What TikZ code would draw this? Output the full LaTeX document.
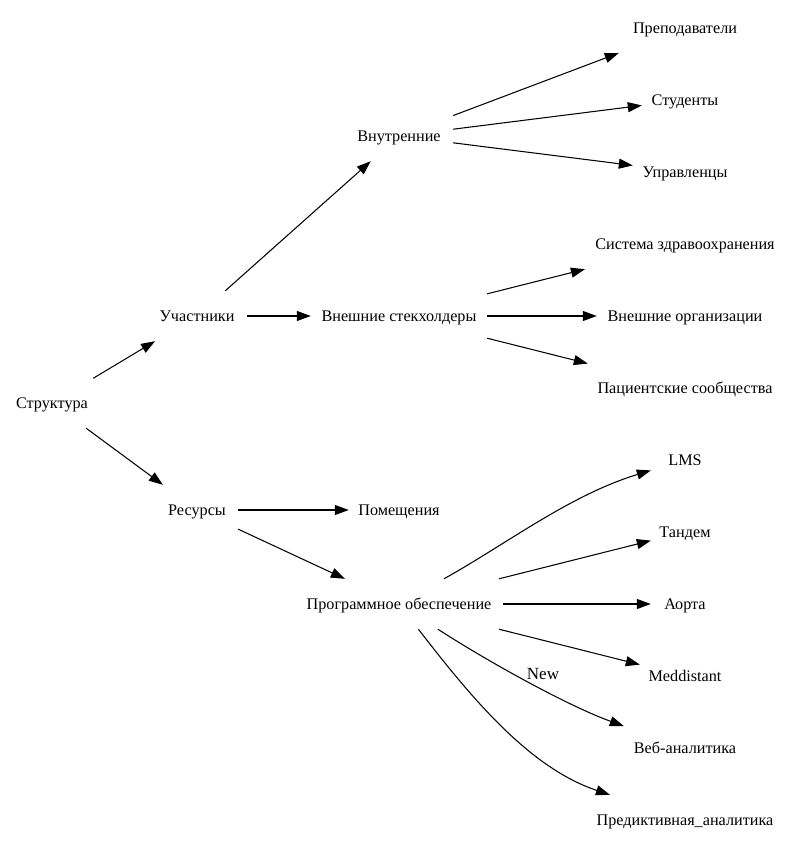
\documentclass[tikz,border=0pt]{standalone}
\usepackage{fontspec}
\setmainfont{Liberation Serif}
\usetikzlibrary{arrows.meta}
\begin{document}
\begin{tikzpicture}[x=1pt,y=-1pt,
  nd/.style={rectangle,inner sep=0pt,minimum height=50pt,text height=14.5pt,text depth=3pt,font=\fontsize{16.2}{19}\selectfont},
  arr/.style={-{Triangle[length=14pt,width=10pt]},line width=1.05pt,black},
  lbl/.style={inner sep=0pt,font=\fontsize{17}{20}\selectfont}]
\useasboundingbox (0,0) rectangle (792,851);
% level 0-2
\node[nd,minimum width=82pt]  (str) at (52,403) {Структура};
\node[nd,minimum width=100pt] (uch) at (197,316) {Участники};
\node[nd,minimum width=82pt]  (res) at (197,510) {Ресурсы};
\node[nd,minimum width=108pt] (vnu) at (399,136) {Внутренние};
\node[nd,minimum width=176pt] (vne) at (399,316) {Внешние стекхолдеры};
\node[nd,minimum width=100pt] (pom) at (399,510) {Помещения};
\node[nd,minimum width=208pt] (po)  at (399,604) {Программное обеспечение};
% leaves
\node[nd,minimum width=132pt] (pre) at (685,28)  {Преподаватели};
\node[nd,minimum width=86pt]  (stu) at (685,100) {Студенты};
\node[nd,minimum width=104pt] (upr) at (685,172) {Управленцы};
\node[nd,minimum width=200pt] (sis) at (685,244) {Система здравоохранения};
\node[nd,minimum width=176pt] (org) at (685,316) {Внешние организации};
\node[nd,minimum width=194pt] (pac) at (685,388) {Пациентские сообщества};
\node[nd,minimum width=68pt]  (lms) at (685,460) {LMS};
\node[nd,minimum width=68pt]  (tan) at (685,532) {Тандем};
\node[nd,minimum width=68pt]  (aor) at (685,604) {Аорта};
\node[nd,minimum width=90pt]  (med) at (685,676) {Meddistant};
\node[nd,minimum width=122pt] (veb) at (685,748) {Веб-аналитика};
\node[nd,minimum width=198pt] (prd) at (685,820) {Предиктивная\_аналитика};
\node[lbl] (new) at (543,674) {New};
% edges
\draw[arr] (str) -- (uch);
\draw[arr] (str) -- (res);
\draw[arr] (uch) -- (vnu);
\draw[arr] (uch) -- (vne);
\draw[arr] (res) -- (pom);
\draw[arr] (res) -- (po);
\draw[arr] (vnu) -- (pre);
\draw[arr] (vnu) -- (stu);
\draw[arr] (vnu) -- (upr);
\draw[arr] (vne) -- (sis);
\draw[arr] (vne) -- (org);
\draw[arr] (vne) -- (pac);
\draw[arr] (po) .. controls (508,543) and (570,495) .. (lms);
\draw[arr] (po) -- (tan);
\draw[arr] (po) -- (aor);
\draw[arr] (po) -- (med);
\draw[arr] (po) .. controls (487,661) and (568,706) .. (veb);
\draw[arr] (po) .. controls (473,700) and (530,768) .. (prd);
\end{tikzpicture}
\end{document}
